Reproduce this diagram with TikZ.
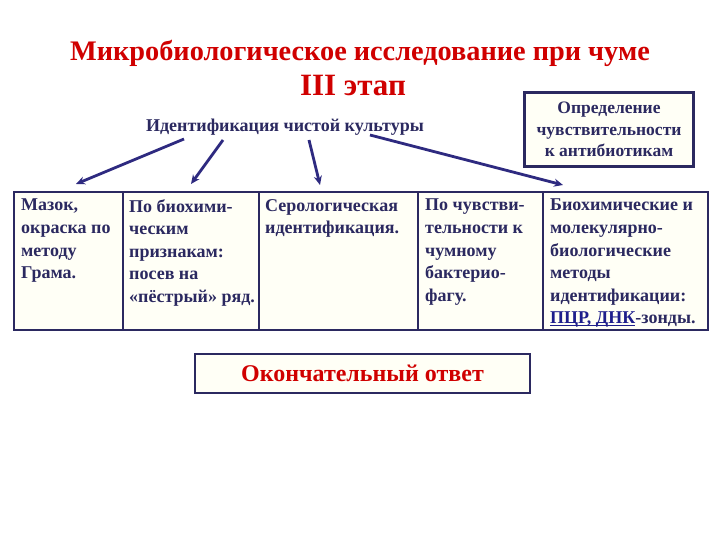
\documentclass[tikz,border=0pt]{standalone}
\usepackage{fontspec}
\setmainfont{Liberation Serif}
\usetikzlibrary{arrows.meta}
\definecolor{navy}{HTML}{2B2960}
\definecolor{arrowblue}{HTML}{2E2A80}
\definecolor{titlered}{HTML}{D00000}
\definecolor{pcr}{HTML}{1E1E8C}
\definecolor{cellfill}{HTML}{FFFFF6}
\newcommand\myul[1]{\setbox0\hbox{#1}\rlap{\rule[-2.2pt]{\wd0}{1.3pt}}\box0}
\tikzset{
  cellbox/.style={draw=navy, line width=2.2pt, fill=cellfill, inner sep=0pt, anchor=north west},
  celltext/.style={anchor=north west, inner sep=0pt, align=left, text=navy,
    font=\fontsize{18}{22.6}\selectfont\bfseries},
  titletext/.style={text=titlered, inner sep=0pt, font=\fontsize{28.3}{32}\selectfont\bfseries},
  conn/.style={draw=arrowblue, line width=2.8pt, -{Stealth[length=9pt,width=8pt]}},
  framebox/.style={draw=navy, line width=2.2pt, fill=cellfill, inner sep=0pt}
}
\begin{document}
\begin{tikzpicture}[x=1pt,y=-1pt]
\useasboundingbox (0,0) rectangle (720,540);
\fill[white] (0,0) rectangle (720,540);
% title
\node[titletext] (t1) at (360,53) {Микробиологическое исследование при чуме};
\node[titletext, font=\fontsize{31}{34}\selectfont\bfseries] (t2) at (353,86) {III этап};
% identification heading
\node[text=navy, inner sep=0pt, font=\fontsize{18}{21}\selectfont\bfseries] (ident) at (285,127) {Идентификация чистой культуры};
% sensitivity box
\node[framebox, minimum width=169pt, minimum height=74pt, align=center, text=navy,
  font=\fontsize{17.5}{21.5}\selectfont\bfseries] (sens) at (609,129.5)
  {Определение\\чувствительности\\к антибиотикам};
% table cells
\node[cellbox, minimum width=109pt, minimum height=138pt] (c1) at (13,191) {};
\node[cellbox, minimum width=136pt, minimum height=138pt] (c2) at (122,191) {};
\node[cellbox, minimum width=159pt, minimum height=138pt] (c3) at (258,191) {};
\node[cellbox, minimum width=125pt, minimum height=138pt] (c4) at (417,191) {};
\node[cellbox, minimum width=165pt, minimum height=138pt] (c5) at (542,191) {};
\node[celltext] (x1) at (21,199) {Мазок,\\окраска по\\методу\\Грама.};
\node[celltext] (x2) at (129,199) {По биохими-\\ческим\\признакам:\\посев на\\«пёстрый» ряд.};
\node[celltext] (x3) at (265,199) {Серологическая\\идентификация.};
\node[celltext] (x4) at (425,199) {По чувстви-\\тельности к\\чумному\\бактерио-\\фагу.};
\node[celltext] (x5) at (550,199) {Биохимические и\\молекулярно-\\биологические\\методы\\идентификации:\\{\color{pcr}\myul{ПЦР, ДНК}}-зонды.};
% final box
\node[framebox, minimum width=335pt, minimum height=39pt, text=titlered,
  font=\fontsize{24}{28}\selectfont\bfseries] (final) at (362.5,373.5) {Окончательный ответ};
% arrows
\coordinate (s1) at (184,139); \coordinate (h1) at (76,184);
\coordinate (s2) at (223,140); \coordinate (h2) at (191,184);
\coordinate (s3) at (309,140); \coordinate (h3) at (320,185);
\coordinate (s4) at (370,135); \coordinate (h4) at (563,185);
\draw[conn] (s1) -- (h1);
\draw[conn] (s2) -- (h2);
\draw[conn] (s3) -- (h3);
\draw[conn] (s4) -- (h4);
\end{tikzpicture}
\end{document}
